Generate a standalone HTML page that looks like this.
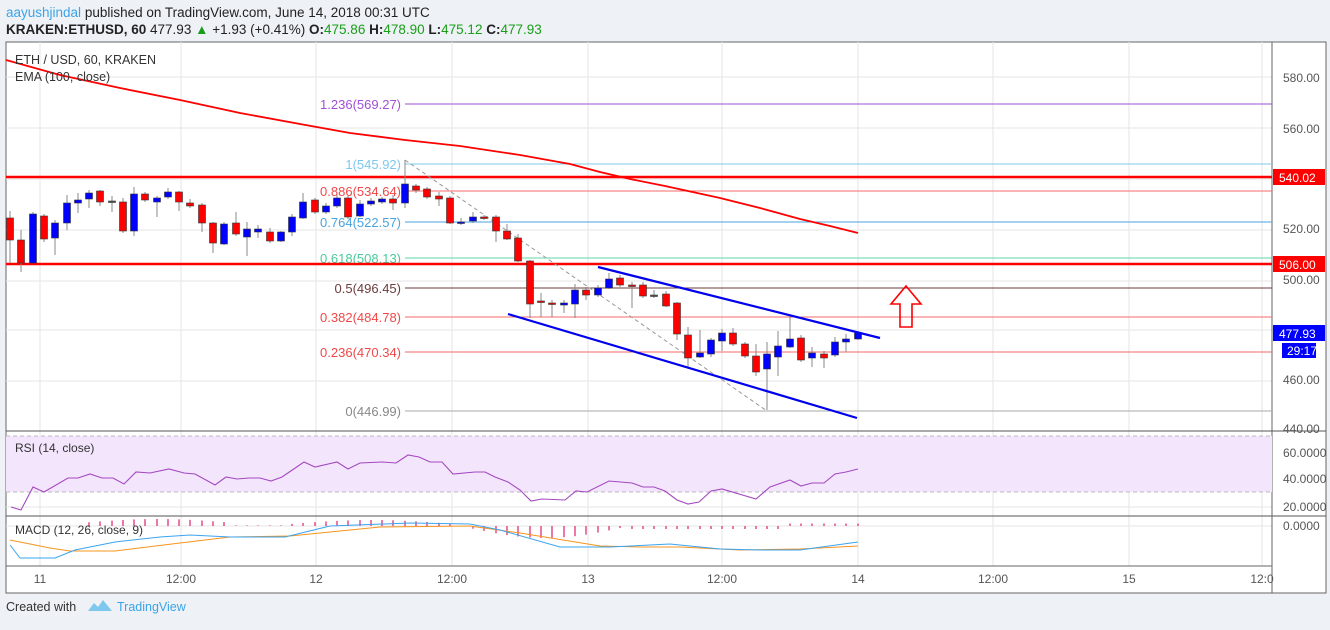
<!DOCTYPE html><html><head><meta charset="utf-8"><style>
body{margin:0;background:#eef1f6;font-family:"Liberation Sans",sans-serif}
</style></head><body>
<svg width="1330" height="625" xmlns="http://www.w3.org/2000/svg" font-family="Liberation Sans, sans-serif">
<rect width="1330" height="625" fill="#eef1f6"/>
<text x="6" y="17" font-size="13.5" fill="#222"><tspan fill="#3ca4e6">aayushjindal</tspan> published on TradingView.com, June 14, 2018 00:31 UTC</text>
<text x="6" y="34" font-size="13.5" fill="#222"><tspan font-weight="bold">KRAKEN:ETHUSD, 60</tspan> 477.93 <tspan fill="#1a9e1a">▲</tspan> +1.93 (+0.41%) <tspan font-weight="bold">O:</tspan><tspan fill="#1a9e1a">475.86</tspan> <tspan font-weight="bold">H:</tspan><tspan fill="#1a9e1a">478.90</tspan> <tspan font-weight="bold">L:</tspan><tspan fill="#1a9e1a">475.12</tspan> <tspan font-weight="bold">C:</tspan><tspan fill="#1a9e1a">477.93</tspan></text>
<rect x="6" y="42" width="1320" height="551" fill="#fff" stroke="#666"/>
<g stroke="#e6e6e6">
<line x1="40" y1="42" x2="40" y2="566"/><line x1="181" y1="42" x2="181" y2="566"/><line x1="316" y1="42" x2="316" y2="566"/><line x1="452" y1="42" x2="452" y2="566"/><line x1="588" y1="42" x2="588" y2="566"/><line x1="722" y1="42" x2="722" y2="566"/><line x1="858" y1="42" x2="858" y2="566"/><line x1="993" y1="42" x2="993" y2="566"/><line x1="1129" y1="42" x2="1129" y2="566"/><line x1="1262" y1="42" x2="1262" y2="566"/>
<line x1="6" y1="77" x2="1272" y2="77"/><line x1="6" y1="128" x2="1272" y2="128"/><line x1="6" y1="179" x2="1272" y2="179"/><line x1="6" y1="230" x2="1272" y2="230"/><line x1="6" y1="281" x2="1272" y2="281"/><line x1="6" y1="330" x2="1272" y2="330"/><line x1="6" y1="381" x2="1272" y2="381"/>
<line x1="6" y1="453" x2="1272" y2="453"/><line x1="6" y1="479" x2="1272" y2="479"/><line x1="6" y1="507" x2="1272" y2="507"/><line x1="6" y1="526" x2="1272" y2="526"/>
</g>
<line x1="1272" y1="42" x2="1272" y2="593" stroke="#666"/>
<line x1="6" y1="431" x2="1326" y2="431" stroke="#555"/>
<line x1="6" y1="516" x2="1326" y2="516" stroke="#555"/>
<line x1="6" y1="566" x2="1272" y2="566" stroke="#666"/>
<g font-size="13" text-anchor="end">
<line x1="405" y1="104" x2="1272" y2="104" stroke="#a24fd6"/><text x="401" y="109" fill="#a24fd6">1.236(569.27)</text>
<line x1="405" y1="164" x2="1272" y2="164" stroke="#7ec8ee"/><text x="401" y="169" fill="#7ec8ee">1(545.92)</text>
<line x1="405" y1="191" x2="1272" y2="191" stroke="#f46a6a"/><text x="401" y="196" fill="#f04848">0.886(534.64)</text>
<line x1="405" y1="222" x2="1272" y2="222" stroke="#4aa3df"/><text x="401" y="227" fill="#4aa3df">0.764(522.57)</text>
<line x1="405" y1="258" x2="1272" y2="258" stroke="#5fd6a8"/><text x="401" y="263" fill="#4cc99a">0.618(508.13)</text>
<line x1="405" y1="288" x2="1272" y2="288" stroke="#6d3c3c"/><text x="401" y="293" fill="#6d3c3c">0.5(496.45)</text>
<line x1="405" y1="317" x2="1272" y2="317" stroke="#f46a6a"/><text x="401" y="322" fill="#f04848">0.382(484.78)</text>
<line x1="405" y1="352" x2="1272" y2="352" stroke="#f46a6a"/><text x="401" y="357" fill="#f04848">0.236(470.34)</text>
<line x1="405" y1="411" x2="1272" y2="411" stroke="#aaa"/><text x="401" y="416" fill="#888">0(446.99)</text>
</g>
<line x1="6" y1="177" x2="1272" y2="177" stroke="#f00" stroke-width="2.5"/>
<line x1="6" y1="264" x2="1272" y2="264" stroke="#f00" stroke-width="2.5"/>
<line x1="405" y1="160" x2="767" y2="411" stroke="#999" stroke-dasharray="4,3"/>
<polyline fill="none" stroke="#f00" stroke-width="1.8" points="6,60 60,75 120,88 180,100 240,113 300,124 350,133 405,140 460,146 520,155 570,164 600,172 630,179 665,186 720,198 760,208 800,219 830,226 858,233"/>
<g id="c"></g>
<line x1="598" y1="267" x2="880" y2="338" stroke="#0000ee" stroke-width="2.2"/>
<line x1="508" y1="314" x2="857" y2="418" stroke="#0000ee" stroke-width="2.2"/>
<path d="M906,286 L921,304 L912,304 L912,327 L900,327 L900,304 L891,304 Z" fill="none" stroke="#f00" stroke-width="1.6"/>
<text x="15" y="64" font-size="12.5" fill="#333">ETH / USD, 60, KRAKEN</text>
<text x="15" y="81" font-size="12.5" fill="#333">EMA (100, close)</text>
<rect x="6" y="436" width="1266" height="56" fill="#f3e6fc"/>
<line x1="6" y1="436" x2="1272" y2="436" stroke="#bbb" stroke-dasharray="4,3"/>
<line x1="6" y1="492" x2="1272" y2="492" stroke="#bbb" stroke-dasharray="4,3"/>
<polyline fill="none" stroke="#a448c0" stroke-width="1.1" points="11,507 21,510 33,487 44,492 68,478 78,478 90,474 102,478 113,478 124,484 136,472 150,473 169,469 184,473 195,474 215,485 226,477 237,479 249,478 260,478 271,481 282,477 304,462 315,467 337,462 348,469 360,463 382,462 396,463 408,455 419,457 430,462 442,462 453,474 475,472 485,472 495,477 508,482 520,490 531,501 542,499 565,500 576,491 587,492 609,481 632,483 643,487 654,487 665,491 677,500 688,504 699,502 711,491 722,489 756,499 770,487 790,480 801,486 812,483 824,483 835,474 846,472 858,469"/>
<text x="15" y="452" font-size="12" fill="#333">RSI (14, close)</text>
<g id="h" stroke="#e0307a" stroke-width="1.3"></g>
<polyline fill="none" stroke="#f7941d" stroke-width="1" points="10,540 50,548 70,551 115,551 180,543 230,537 290,536 380,527 470,526 520,533 600,546 640,547 680,547 740,550 800,549 858,546"/>
<polyline fill="none" stroke="#3ba4f0" stroke-width="1" points="10,545 20,558 55,558 75,550 115,542 160,537 190,535 230,537 285,537 330,526 410,523 470,524 500,530 560,547 610,547 670,544 720,549 760,550 800,550 858,542"/>
<text x="15" y="534" font-size="12" fill="#333">MACD (12, 26, close, 9)</text>
<g font-size="12" fill="#555">
<text x="1283" y="82">580.00</text><text x="1283" y="133">560.00</text><text x="1283" y="233">520.00</text><text x="1283" y="284">500.00</text><text x="1283" y="384">460.00</text><text x="1283" y="433">440.00</text>
<text x="1283" y="457">60.0000</text><text x="1283" y="483">40.0000</text><text x="1283" y="511">20.0000</text><text x="1283" y="530">0.0000</text>
<g text-anchor="middle"><text x="40" y="583">11</text><text x="181" y="583">12:00</text><text x="316" y="583">12</text><text x="452" y="583">12:00</text><text x="588" y="583">13</text><text x="722" y="583">12:00</text><text x="858" y="583">14</text><text x="993" y="583">12:00</text><text x="1129" y="583">15</text><text x="1262" y="583">12:0</text></g>
</g>
<g font-size="12" fill="#fff">
<rect x="1273" y="169" width="52" height="16" fill="#f00"/><text x="1279" y="182">540.02</text>
<rect x="1273" y="256" width="52" height="16" fill="#f00"/><text x="1279" y="269">506.00</text>
<rect x="1273" y="325" width="52" height="16" fill="#00f"/><text x="1279" y="338">477.93</text>
<rect x="1282" y="343" width="34" height="15" fill="#00f"/><text x="1287" y="355">29:17</text>
</g>
<text x="6" y="611" font-size="12.5" fill="#333">Created with</text>
<path d="M88,611 l6,-8 4,4 5,-7 9,11 z" fill="#7ec8ee"/>
<text x="117" y="611" font-size="12.5" fill="#3ca4e6">TradingView</text>
</svg>
<script>
var d=[[10,'r',218,240,211,263],[21,'r',240,263,230,272],[33,'b',214,263,212,263],[44,'r',216,239,214,242],[55,'b',223,238,220,255],[67,'b',203,223,195,230],[78,'b',200,203,193,213],[89,'b',193,199,190,208],[100,'r',191,202,190,206],[112,'f',201,202,196,212],[123,'r',202,231,198,233],[134,'b',194,231,187,236],[145,'r',194,200,192,202],[157,'b',198,202,196,217],[168,'b',192,197,188,199],[179,'r',192,202,191,211],[190,'r',203,206,199,208],[202,'r',205,223,203,232],[213,'r',223,243,222,253],[224,'b',224,244,222,245],[236,'r',223,234,212,236],[247,'b',229,237,222,256],[258,'b',229,232,225,238],[270,'r',232,241,228,243],[281,'b',232,241,231,242],[292,'b',217,232,214,236],[303,'b',202,218,193,219],[315,'r',200,212,198,214],[326,'b',206,212,203,214],[337,'b',198,206,195,208],[348,'r',198,217,196,219],[360,'b',204,216,200,217],[371,'b',201,204,198,206],[382,'b',199,202,197,204],[393,'r',199,203,195,210],[405,'b',184,203,160,208],[416,'r',186,190,184,193],[427,'r',189,197,187,199],[439,'r',196,199,192,206],[450,'r',198,223,196,224],[461,'b',222,223,218,225],[473,'b',217,221,212,223],[484,'r',217,218,215,220],[496,'r',217,231,215,242],[507,'r',231,239,224,240],[518,'r',238,261,234,262],[530,'r',261,304,260,318],[541,'r',301,302,293,317],[552,'r',303,304,300,317],[564,'b',303,305,300,313],[575,'b',290,304,284,318],[586,'r',290,295,287,300],[598,'b',288,295,285,297],[609,'b',279,288,273,289],[620,'r',278,285,275,287],[632,'r',285,286,282,308],[643,'r',285,296,282,298],[654,'f',295,296,290,298],[666,'r',294,306,291,307],[677,'r',303,334,302,340],[688,'r',335,358,327,367],[700,'b',353,357,330,358],[711,'b',340,354,338,357],[722,'b',333,341,329,351],[733,'r',333,344,328,346],[745,'r',344,356,342,358],[756,'r',356,372,344,376],[767,'b',354,369,342,410],[778,'b',346,357,331,376],[790,'b',339,347,317,348],[801,'r',338,360,335,362],[812,'b',353,358,347,367],[824,'r',354,358,351,368],[835,'b',342,355,337,357],[846,'b',339,342,334,352],[858,'b',333,339,331,340]];
var s='';
d.forEach(function(c){var x=c[0],col=c[1]=='r'?'#f00':c[1]=='b'?'#00f':'#555';
s+='<line x1="'+x+'" x2="'+x+'" y1="'+c[4]+'" y2="'+c[5]+'" stroke="#888"/>';
s+='<rect x="'+(x-3.5)+'" y="'+c[2]+'" width="7" height="'+Math.max(1.5,c[3]-c[2])+'" fill="'+col+'" stroke="#333" stroke-width="0.6"/>';});
document.getElementById('c').innerHTML=s;
function hv(x){if(x<80)return 0;if(x<235)return 3+4*Math.sin((x-80)/155*Math.PI);if(x<290)return 0.6;if(x<455)return 2+4*Math.sin((x-290)/165*Math.PI);if(x<470)return 0;if(x<625)return -(1+11*Math.sin((x-465)/160*Math.PI));if(x<780)return -3;return 2.5;}
var hs='';d.forEach(function(c){var x=c[0],v=hv(x);if(v>0.3)hs+='<line x1="'+x+'" x2="'+x+'" y1="'+(526-v)+'" y2="526"/>';else if(v<-0.3)hs+='<line x1="'+x+'" x2="'+x+'" y1="526" y2="'+(526-v)+'"/>';});
document.getElementById('h').innerHTML=hs;
</script>
</body></html>
